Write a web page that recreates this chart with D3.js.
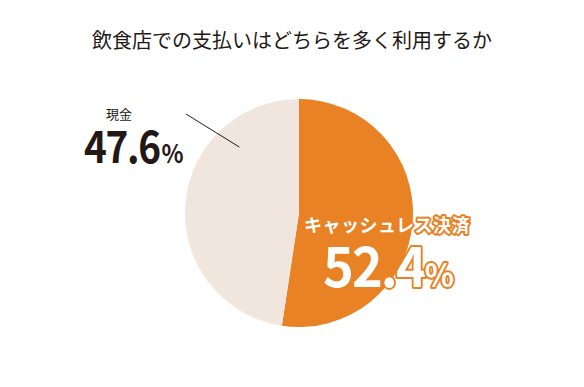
<!DOCTYPE html>
<html><head><meta charset="utf-8">
<script src="https://cdn.jsdelivr.net/npm/d3@7"></script>
<style>body{margin:0;background:#fff}svg{display:block}</style>
</head><body>
<script>
const title = "飲食店での支払いはどちらを多く利用するか";
const categories = ["キャッシュレス決済", "現金"];
const values = [52.4, 47.6];
const valueLabels = ["52.4", "47.6"];
const colors = ["#E88224", "#F0E6DE"];

const W = 584, H = 387;
const svg = d3.select("body").append("svg").attr("width", W).attr("height", H);
const jp = "'Noto Sans CJK JP','Noto Sans',sans-serif";

svg.append("text").attr("x", 292).attr("y", 48).attr("text-anchor", "middle")
  .attr("font-family", jp).attr("font-size", 20).attr("fill", "#231815").text(title);

const cx = 299, cy = 213, r = 114;
const pie = d3.pie().sort(null).value(d => d)(values);
const arc = d3.arc().innerRadius(0).outerRadius(r);
const g = svg.append("g").attr("transform", `translate(${cx},${cy})`);
g.selectAll("path").data(pie).join("path").attr("d", arc).attr("fill", (d, i) => colors[i]);

// leader line for 現金
const a = (pie[1].startAngle + pie[1].endAngle) / 2 + 0.76;
const p1 = [Math.sin(a) * r * 0.78, -Math.cos(a) * r * 0.78];
svg.append("line").attr("x1", 186).attr("y1", 114).attr("x2", cx + p1[0]).attr("y2", cy + p1[1])
  .attr("stroke", "#231815").attr("stroke-width", 1);

// 現金 label
svg.append("text").attr("x", 119).attr("y", 119).attr("text-anchor", "middle")
  .attr("font-family", jp).attr("font-size", 13).attr("fill", "#231815").text(categories[1]);
const t2 = svg.append("text").attr("transform", "translate(84,163) scale(0.88,1)")
  .attr("font-family", jp).attr("font-weight", 700).attr("fill", "#231815").attr("letter-spacing", -1.5);
t2.append("tspan").attr("font-size", 44).text(valueLabels[1]);
t2.append("tspan").attr("font-size", 26).attr("dx", 2).text("%");

// キャッシュレス label
const lab = svg.append("g");
const addOut = (sel) => sel.attr("stroke", "#E88224").attr("stroke-width", 4).attr("paint-order", "stroke").attr("stroke-linejoin", "round").attr("fill", "#fff");
addOut(lab.append("text").attr("x", 387).attr("y", 232).attr("text-anchor", "middle")
  .attr("font-family", jp).attr("font-weight", 700).attr("font-size", 18).attr("letter-spacing", 0.5).text(categories[0]));
const t1 = addOut(lab.append("text").attr("transform", "translate(323,287) scale(0.95,1)")
  .attr("font-family", jp).attr("font-weight", 700).attr("letter-spacing", -2));
t1.append("tspan").attr("font-size", 55).text(valueLabels[0]);
t1.append("tspan").attr("font-size", 32).attr("dx", 0).text("%");
</script>
</body></html>
